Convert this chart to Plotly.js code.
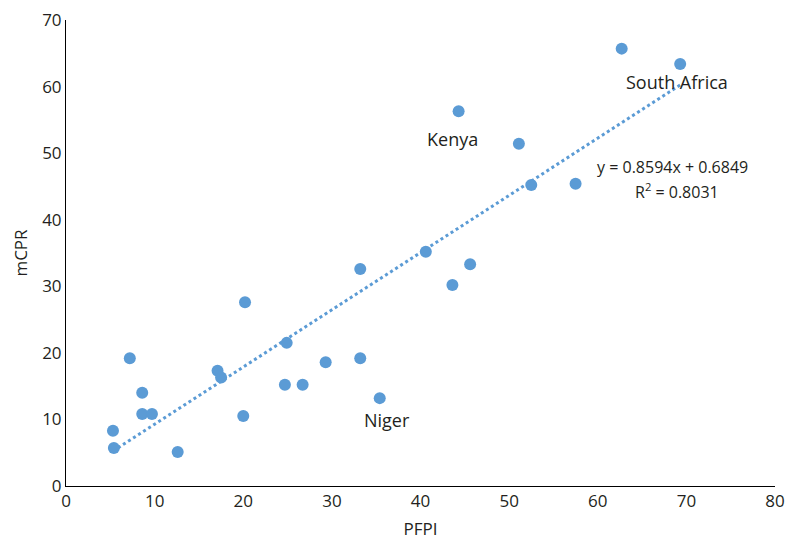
<!DOCTYPE html>
<html>
<head>
<meta charset="utf-8">
<script src="https://cdn.plot.ly/plotly-3.0.1.min.js"></script>
<style>html,body{margin:0;padding:0;background:#fff;}#chart{width:793px;height:540px;}</style>
</head>
<body>
<div id="chart"></div>
<script>
// PFPI (x) and mCPR (y) by country
const pfpi = [5.3, 5.4, 7.2, 8.6, 8.6, 9.7, 12.6, 17.1, 17.5, 20.2, 20.0, 24.9, 24.7, 26.7, 29.3, 33.2, 33.2, 35.4, 40.6, 43.6, 44.3, 45.6, 51.1, 52.5, 57.5, 62.7, 69.3];
const mcpr = [8.3, 5.7, 19.2, 14.0, 10.8, 10.8, 5.1, 17.3, 16.3, 27.6, 10.5, 21.5, 15.2, 15.2, 18.6, 32.6, 19.2, 13.2, 35.2, 30.2, 56.3, 33.3, 51.4, 45.2, 45.4, 65.7, 63.4];

// Linear trendline parameters
const slope = 0.8594;
const intercept = 0.6849;
const rSquared = 0.8031;
const trendX = [Math.min(...pfpi), Math.max(...pfpi)];
const trendY = trendX.map(x => slope * x + intercept);

// Country labels
const labelText = ["Kenya", "South Africa", "Niger"];
const labelX = [43.6, 68.9, 36.2];
const labelY = [52.1, 60.7, 9.9];

const xTicks = [0, 10, 20, 30, 40, 50, 60, 70, 80];
const yTicks = [0, 10, 20, 30, 40, 50, 60, 70];

const blue = '#5B9BD5';
const textColor = '#231F20';
const fontFam = '"Open Sans", "Noto Sans", sans-serif';

const traces = [
  {
    x: trendX, y: trendY, type: 'scatter', mode: 'lines',
    line: {color: blue, width: 3, dash: 'dot'},
    hoverinfo: 'skip', showlegend: false
  },
  {
    x: pfpi, y: mcpr, type: 'scatter', mode: 'markers',
    marker: {color: blue, size: 12},
    showlegend: false
  }
];

const annotations = labelText.map((t, i) => ({
  x: labelX[i], y: labelY[i], xref: 'x', yref: 'y', text: t,
  showarrow: false, font: {family: fontFam, size: 18, color: textColor}
}));
annotations.push({
  x: 68.4, y: 47.9, xref: 'x', yref: 'y',
  text: 'y = ' + slope.toFixed(4) + 'x + ' + intercept.toFixed(4),
  showarrow: false, font: {family: fontFam, size: 16, color: textColor}
});
annotations.push({
  x: 68.9, y: 44.3, xref: 'x', yref: 'y',
  text: 'R<sup>2</sup> = ' + rSquared.toFixed(4),
  showarrow: false, font: {family: fontFam, size: 16, color: textColor}
});

const layout = {
  width: 793, height: 540,
  margin: {l: 66, r: 18, t: 20, b: 54},
  paper_bgcolor: '#fff', plot_bgcolor: '#fff',
  font: {family: fontFam, size: 17, color: textColor},
  xaxis: {
    range: [0, 80], tickvals: xTicks, ticktext: xTicks.map(String),
    showgrid: false, zeroline: false, showline: true, linecolor: '#000', linewidth: 1,
    ticks: '', ticklen: 0, automargin: false,
    title: {text: 'PFPI', font: {family: fontFam, size: 17, color: textColor}, standoff: 12},
    tickfont: {family: fontFam, size: 17, color: textColor}
  },
  yaxis: {
    range: [0, 70], tickvals: yTicks, ticktext: yTicks.map(String),
    showgrid: false, zeroline: false, showline: true, linecolor: '#000', linewidth: 1,
    ticks: '', ticklen: 0, automargin: false,
    title: {text: 'mCPR', font: {family: fontFam, size: 17, color: textColor}, standoff: 10},
    tickfont: {family: fontFam, size: 17, color: textColor}
  },
  annotations: annotations
};

Plotly.newPlot('chart', traces, layout, {displayModeBar: false, staticPlot: true});
</script>
</body>
</html>
